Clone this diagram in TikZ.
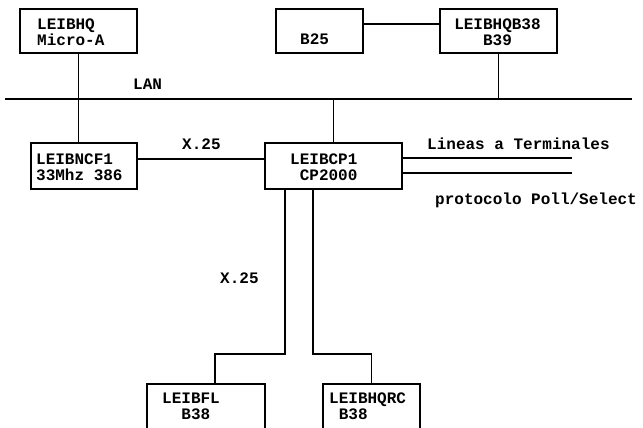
\documentclass[tikz,border=0pt]{standalone}
\usepackage{fontspec}
\usepackage{xcolor}
\usepackage{tikz}
\newfontfamily\scanfont{Liberation Mono}

\begin{document}
\begin{tikzpicture}[x=1pt, y=-1pt,
    box/.style={draw, line width=1.2pt, minimum width=#1, minimum height=44pt, inner sep=0pt},
    lbl/.style={inner sep=0pt, align=left, font=\scanfont\bfseries\fontsize{16}{16}\selectfont},
    wire/.style={line width=1.1pt}]
    \useasboundingbox (0,0) rectangle (643,428);

    % Equipment boxes
    \node[box=117pt] (hq) at (78.5,31) {};
    \node[box=87pt] (b25) at (319.5,31) {};
    \node[box=117pt] (hqb) at (498.5,31) {};
    \node[box=106pt, minimum height=46pt] (ncf) at (84,166) {};
    \node[box=137pt, minimum height=46pt] (cp) at (333.5,166) {};
    \node[box=118pt, minimum height=50pt] (fl) at (206,409) {};
    \node[box=97pt, minimum height=50pt] (rc) at (371.5,409) {};

    % Box texts
    \node[lbl, right] (hqtext) at (37,32) {LEIBHQ\\Micro-A};
    \node[lbl, right] (b25text) at (300,39) {B25};
    \node[lbl, align=center] (hqbtext) at (497.5,32) {LEIBHQB38\\B39};
    \node[lbl, right] (ncftext) at (36,167) {LEIBNCF1\\33Mhz 386};
    \node[lbl, right] (cptext) at (290,167) {LEIBCP1\\\hphantom{L}CP2000};
    \node[lbl, right] (fltext) at (162,406) {LEIBFL\\\hphantom{LE}B38};
    \node[lbl, right] (rctext) at (329,406) {LEIBHQRC\\\hphantom{L}B38};

    % LAN and line ends
    \coordinate (lanL) at (5,99);
    \coordinate (lanR) at (632,99);
    \coordinate (t1) at (572,158);
    \coordinate (t2) at (572,173);
    \coordinate (j1) at (285,354);
    \coordinate (j2) at (313,354);

    % Connections
    \draw[wire] (lanL) -- (lanR);
    \draw[wire] (hq.south) -- (hq.south |- ncf.north);
    \draw[wire] ([yshift=7pt]b25.east) -- ([yshift=7pt]b25.east -| hqb.west);
    \draw[wire] (hqb.south) -- (hqb.south |- lanR);
    \draw[wire] (cp.north) -- (cp.north |- lanL);
    \draw[wire] ([yshift=7pt]ncf.east) -- ([yshift=7pt]ncf.east -| cp.west);
    \draw[wire] (cp.east |- t1) -- (t1);
    \draw[wire] (cp.east |- t2) -- (t2);
    \draw[wire] (j1 |- cp.south) -- (j1) -| ([xshift=9pt]fl.north);
    \draw[wire] (j2 |- cp.south) -- (j2) -| (rc.north);

    % Line labels
    \node[lbl, right] (lan) at (133,84) {LAN};
    \node[lbl, right] (x25a) at (182,144) {X.25};
    \node[lbl, right] (x25b) at (220,278) {X.25};
    \node[lbl, right] (term) at (427,144) {Lineas a Terminales};
    \node[lbl, right] (proto) at (435,200) {protocolo Poll/Select};
\end{tikzpicture}
\end{document}
